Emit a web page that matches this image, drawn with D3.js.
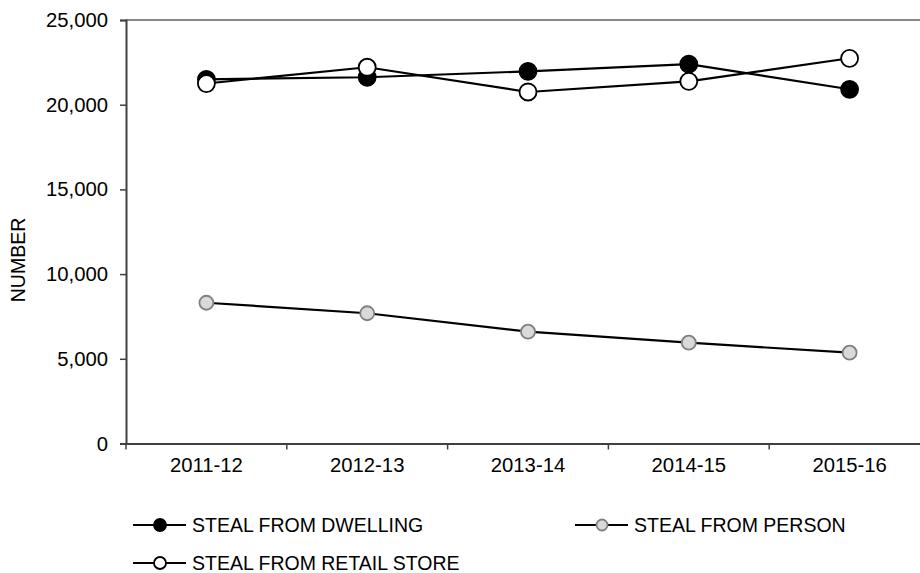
<!DOCTYPE html>
<html><head><meta charset="utf-8">
<script src="https://cdn.jsdelivr.net/npm/d3@7"></script>
<style>body{margin:0;background:#fff}svg text{font-family:"Liberation Sans",Arial,sans-serif;fill:#000}</style>
</head><body><svg id="c" width="920" height="573"></svg>
<script>
const categories = ["2011-12","2012-13","2013-14","2014-15","2015-16"];
const dwelling = [21500, 21620, 21970, 22400, 20910];
const person = [8310, 7690, 6600, 5950, 5360];
const retail = [21250, 22210, 20750, 21380, 22740];
const yTicks = [0, 5000, 10000, 15000, 20000, 25000];
const seriesNames = ["STEAL FROM DWELLING","STEAL FROM PERSON","STEAL FROM RETAIL STORE"];

(function(){
const svg = d3.select("#c");
const mL = 126, mT = 20, mB = 443.5, mR = 930;
const x = d3.scaleBand().domain(categories).range([mL, mR]);
const y = d3.scaleLinear().domain([0, 25000]).range([mB, mT]);
const fs = "20.3px", lfs = "19.5px";

svg.append("line").attr("x1", mL).attr("x2", 920).attr("y1", mT).attr("y2", mT)
  .attr("stroke", "#888").attr("stroke-width", 2);

const ya = svg.append("g").attr("transform", `translate(${mL},0)`)
  .call(d3.axisLeft(y).tickValues(yTicks).tickSize(6).tickPadding(12).tickFormat(d3.format(",")));
ya.select(".domain").attr("stroke", "#404040").attr("stroke-width", 2);
ya.selectAll(".tick line").attr("stroke", "#404040").attr("stroke-width", 1.5);
ya.selectAll("text").style("font-size", fs).attr("fill", "#000");

const xa = svg.append("g").attr("transform", `translate(0,${mB})`)
  .call(d3.axisBottom(x).tickSize(0).tickPadding(14));
xa.select(".domain").attr("stroke", "#404040").attr("stroke-width", 2);
xa.selectAll("text").style("font-size", fs).attr("fill", "#000");
xa.selectAll(".bt").data(categories.concat(["end"])).enter().append("line")
  .attr("class", "bt")
  .attr("x1", (d, i) => mL + i * x.bandwidth()).attr("x2", (d, i) => mL + i * x.bandwidth())
  .attr("y1", 0).attr("y2", 6).attr("stroke", "#404040").attr("stroke-width", 1.5);

svg.append("text").attr("transform", `translate(25,260) rotate(-90)`)
  .attr("text-anchor", "middle").style("font-size", lfs).text("NUMBER");

const styles = [
  {data: dwelling, fill: "#000", stroke: "#000", r: 8.5},
  {data: person, fill: "#d9d9d9", stroke: "#808080", r: 7},
  {data: retail, fill: "#fff", stroke: "#000", r: 8.5}
];
const line = d3.line().x((d, i) => x(categories[i]) + x.bandwidth() / 2).y(d => y(d));
[1, 0, 2].forEach(k => {
  svg.append("path").attr("d", line(styles[k].data)).attr("fill", "none").attr("stroke", "#000").attr("stroke-width", 2.2);
});
[1, 0, 2].forEach(k => {
  const s = styles[k];
  svg.selectAll(".m" + k).data(s.data).enter().append("circle")
    .attr("cx", (d, i) => x(categories[i]) + x.bandwidth() / 2).attr("cy", d => y(d))
    .attr("r", s.r).attr("fill", s.fill).attr("stroke", s.stroke).attr("stroke-width", 1.8);
});

const legendPos = [[133, 525], [575, 525], [133, 563]];
seriesNames.forEach((n, k) => {
  const [lx, ly] = legendPos[k], s = styles[k];
  const g = svg.append("g");
  g.append("line").attr("x1", lx).attr("x2", lx + 53).attr("y1", ly).attr("y2", ly)
    .attr("stroke", "#000").attr("stroke-width", 2.2);
  g.append("circle").attr("cx", lx + 27).attr("cy", ly).attr("r", k === 1 ? 5.5 : 6)
    .attr("fill", s.fill).attr("stroke", s.stroke).attr("stroke-width", 1.8);
  g.append("text").attr("x", lx + 59).attr("y", ly).attr("dy", "0.35em")
    .style("font-size", lfs).text(n);
});
})();
</script></body></html>
